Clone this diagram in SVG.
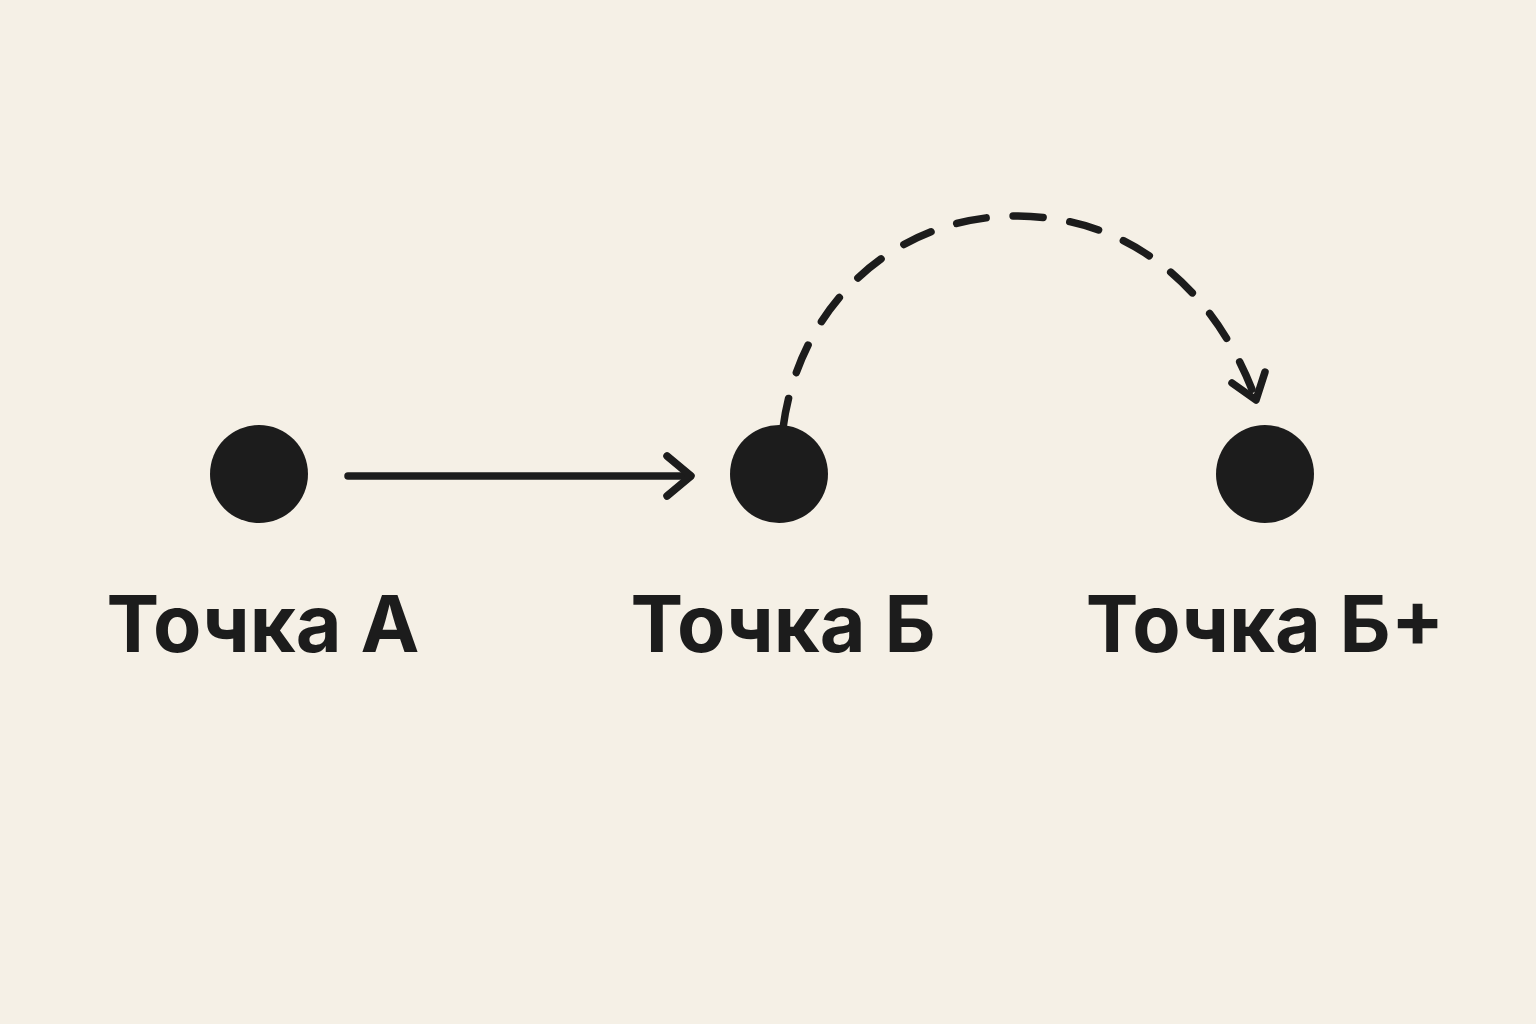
<svg xmlns="http://www.w3.org/2000/svg" width="1536" height="1024" viewBox="0 0 1536 1024">
<style>
.node{fill:#1c1c1c}
.lbl{font-family:Inter,"Liberation Sans","Noto Sans",sans-serif;font-weight:700;font-size:79px;fill:#1c1c1c;text-anchor:middle}
.conn{fill:none;stroke:#1c1c1c;stroke-width:7.5;stroke-linecap:round;stroke-linejoin:round}
.dash{stroke-dasharray:30 27}
</style>
<rect width="1536" height="1024" fill="#f5f0e6"/>
<g id="connectors">
<path class="conn" d="M348,476 L690,476"/>
<path class="conn" d="M667,456 L691,476 L667,496"/>
<path class="conn dash" d="M783,428 C800,300 900,215 1018,216 C1140,217 1220,300 1256,400"/>
<path class="conn" d="M1232,383 L1256,400 L1265,372"/>
</g>
<g id="nodeA"><circle class="node" cx="259" cy="474" r="49"/><text class="lbl" x="263" y="652">Точка А</text></g>
<g id="nodeB"><circle class="node" cx="779" cy="474" r="49"/><text class="lbl" x="783" y="652">Точка Б</text></g>
<g id="nodeBplus"><circle class="node" cx="1265" cy="474" r="49"/><text class="lbl" x="1265" y="652">Точка Б+</text></g>
</svg>
